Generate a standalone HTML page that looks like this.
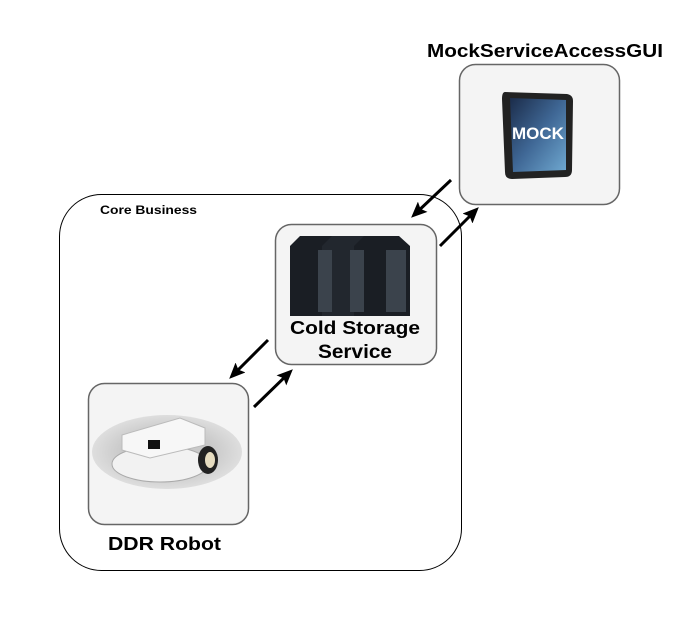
<!DOCTYPE html>
<html><head><style>body{margin:0;background:#fff}svg{display:block}text{font-family:"Liberation Sans",sans-serif;font-weight:bold}</style></head>
<body>
<svg width="692" height="619" viewBox="0 0 692 619" xmlns="http://www.w3.org/2000/svg">
<defs>
<marker id="ah" markerWidth="16" markerHeight="14" refX="12" refY="7" orient="auto" markerUnits="userSpaceOnUse" viewBox="0 0 16 14"><path d="M0,0 L16,7 L0,14 L3,7 z" fill="#000"/></marker>
<linearGradient id="scr" x1="0" y1="0" x2="1" y2="1"><stop offset="0" stop-color="#1b2c4a"/><stop offset="0.5" stop-color="#3f6795"/><stop offset="1" stop-color="#6fa8d0"/></linearGradient>
<radialGradient id="ell"><stop offset="0.6" stop-color="#c9c9c9"/><stop offset="1" stop-color="#dedede"/></radialGradient>
</defs>
<rect x="59.5" y="194.5" width="402" height="376" rx="42" fill="#fff" stroke="#000" stroke-width="1"/>
<text x="100" y="214" font-size="12" textLength="97" lengthAdjust="spacingAndGlyphs">Core Business</text>

<!-- Mock -->
<text x="427" y="57" font-size="18" textLength="236" lengthAdjust="spacingAndGlyphs">MockServiceAccessGUI</text>
<rect x="459.5" y="64.5" width="160" height="140" rx="16" fill="#f4f4f4" stroke="#666" stroke-width="1.5"/>
<path d="M505,92 L567,94 Q573,95 573,101 L572,170 Q572,177 565,177 L512,179 Q505,179 505,172 L502,99 Q502,92 505,92z" fill="#222"/>
<path d="M510,98 L566,100 L566,170 L513,172z" fill="url(#scr)"/>
<text x="538" y="139" font-size="17" fill="#fff" text-anchor="middle">MOCK</text>

<!-- Cold storage -->
<rect x="275.5" y="224.5" width="161" height="140" rx="16" fill="#f4f4f4" stroke="#666" stroke-width="1.5"/>
<g fill="#1a1e24">
<path d="M290,246 L300,236 L335,236 L335,316 L290,316z"/>
<path d="M322,246 L332,236 L367,236 L367,316 L322,316z" fill="#22272e"/>
<path d="M354,246 L364,236 L399,236 L410,246 L410,316 L354,316z"/>
</g>
<g fill="#3b434c"><rect x="318" y="250" width="14" height="62"/><rect x="350" y="250" width="14" height="62"/><rect x="386" y="250" width="20" height="62"/></g>
<text x="290" y="334" font-size="18" textLength="130" lengthAdjust="spacingAndGlyphs">Cold Storage</text>
<text x="318" y="358" font-size="19" textLength="74" lengthAdjust="spacingAndGlyphs">Service</text>

<!-- Robot -->
<rect x="88.5" y="383.5" width="160" height="141" rx="16" fill="#f4f4f4" stroke="#666" stroke-width="1.5"/>
<ellipse cx="167" cy="452" rx="75" ry="37" fill="url(#ell)"/>
<ellipse cx="160" cy="464" rx="48" ry="18" fill="#f2f2f2" stroke="#aaa"/>
<path d="M122,435 L180,418 L205,428 L205,445 L150,458 L122,450z" fill="#f7f7f7" stroke="#bbb"/>
<rect x="148" y="440" width="12" height="9" fill="#111"/>
<ellipse cx="208" cy="460" rx="10" ry="14" fill="#222"/>
<ellipse cx="210" cy="460" rx="5" ry="8" fill="#e6dcc0"/>
<text x="108" y="550" font-size="18" textLength="113" lengthAdjust="spacingAndGlyphs">DDR Robot</text>

<!-- arrows -->
<g stroke="#000" stroke-width="3" fill="none">
<line x1="451" y1="180" x2="414" y2="215" marker-end="url(#ah)"/>
<line x1="440" y1="246" x2="476" y2="210" marker-end="url(#ah)"/>
<line x1="268" y1="340" x2="232" y2="376" marker-end="url(#ah)"/>
<line x1="254" y1="407" x2="290" y2="372" marker-end="url(#ah)"/>
</g>
</svg>
</body></html>
